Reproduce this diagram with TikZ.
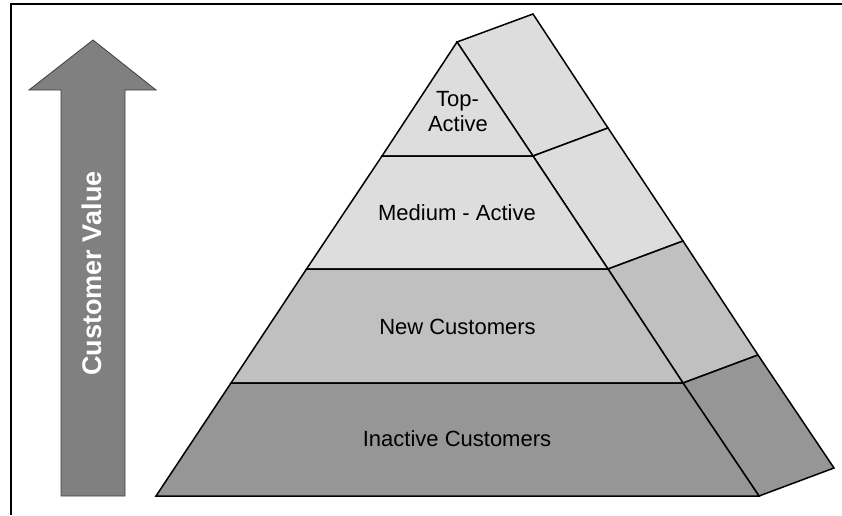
\documentclass[tikz,border=0pt]{standalone}
\usepackage{fontspec}
\setmainfont{Liberation Sans}
\definecolor{lightg}{HTML}{DDDDDD}
\definecolor{midg}{HTML}{C0C0C0}
\definecolor{darkg}{HTML}{969696}
\definecolor{arrowg}{HTML}{808080}
\tikzset{
  face/.style={draw=black, line width=1.5pt, line join=miter},
  lbl/.style={anchor=base, inner sep=0pt, font=\fontsize{22}{25}\selectfont},
}
\begin{document}
\begin{tikzpicture}[x=1pt,y=-1pt]
\useasboundingbox (0,0) rectangle (842,515);
\fill[white] (0,0) rectangle (842,515);
% frame
\draw[line width=1.5pt] (11,515) -- (11,4) -- (842,4);
% arrow
\filldraw[fill=arrowg, draw=black!75, line width=0.8pt]
  (93,40) -- (156,90) -- (125,90) -- (125,496) -- (61,496) -- (61,90) -- (29,90) -- cycle;
\node[anchor=base, rotate=90, inner sep=0pt, text=white, font=\bfseries\fontsize{27}{30}\selectfont] (cv) at (101,273.5) {Customer Value};
% coordinates
\coordinate (A) at (457,42);
\coordinate (B) at (533,14);
\coordinate (L1) at (382,156); \coordinate (R1) at (533,156); \coordinate (S1) at (608,128);
\coordinate (L2) at (306.5,269); \coordinate (R2) at (608,269); \coordinate (S2) at (683,241);
\coordinate (L3) at (231,383); \coordinate (R3) at (683,383); \coordinate (S3) at (758,355);
\coordinate (L4) at (156,496); \coordinate (R4) at (759,496); \coordinate (S4) at (834,468);
% side faces
\filldraw[face, fill=lightg] (A) -- (B) -- (S1) -- (R1) -- cycle;
\filldraw[face, fill=lightg] (R1) -- (S1) -- (S2) -- (R2) -- cycle;
\filldraw[face, fill=midg] (R2) -- (S2) -- (S3) -- (R3) -- cycle;
\filldraw[face, fill=darkg] (R3) -- (S3) -- (S4) -- (R4) -- cycle;
% front faces
\filldraw[face, fill=lightg] (A) -- (R1) -- (L1) -- cycle;
\filldraw[face, fill=lightg] (L1) -- (R1) -- (R2) -- (L2) -- cycle;
\filldraw[face, fill=midg] (L2) -- (R2) -- (R3) -- (L3) -- cycle;
\filldraw[face, fill=darkg] (L3) -- (R3) -- (R4) -- (L4) -- cycle;
% labels
\node[lbl] (top1) at (457.5,106) {Top-};
\node[lbl] (top2) at (458,131) {Active};
\node[lbl] (med) at (457,220) {Medium - Active};
\node[lbl] (new) at (457.5,334) {New Customers};
\node[lbl] (ina) at (457,446) {Inactive Customers};
\end{tikzpicture}
\end{document}
